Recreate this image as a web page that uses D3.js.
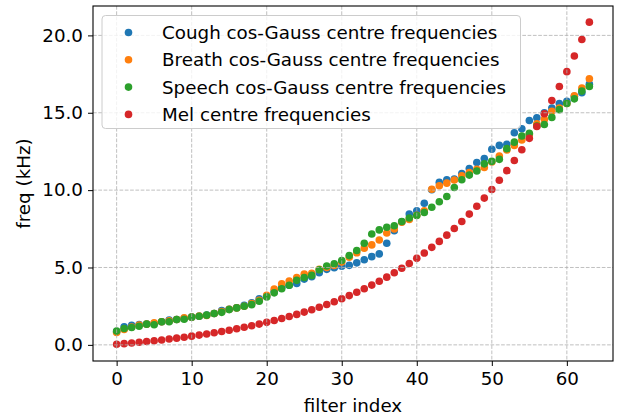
<!DOCTYPE html>
<html>
<head>
<meta charset="utf-8">
<script src="https://cdn.jsdelivr.net/npm/d3@7"></script>
<style>
  body { margin: 0; background: #fff; }
  svg { display: block; font-family: "DejaVu Sans", sans-serif; }
</style>
</head>
<body>
<svg id="chart" width="619" height="417"></svg>
<script>
// centre frequencies (kHz) per filter index
const cough = [0.86, 1.17, 1.27, 1.31, 1.35, 1.38, 1.49, 1.60, 1.64, 1.72,
  1.79, 1.85, 1.93, 2.03, 2.22, 2.30, 2.40, 2.56, 2.72, 2.98,
  3.15, 3.45, 3.72, 3.85, 3.97, 4.25, 4.40, 4.66, 4.88, 4.98,
  5.08, 5.14, 5.30, 5.50, 5.70, 5.88, 6.57, 7.38, 7.95, 8.45,
  8.67, 9.15, 10.02, 10.50, 10.66, 10.71, 11.07, 11.40, 11.78, 12.04,
  12.64, 12.89, 12.96, 13.71, 13.97, 14.50, 14.68, 15.00, 15.30, 15.60,
  15.74, 16.06, 16.30, 16.85];
const breath = [0.80, 1.00, 1.15, 1.28, 1.34, 1.43, 1.49, 1.55, 1.64, 1.75,
  1.79, 1.86, 1.90, 2.03, 2.15, 2.30, 2.39, 2.50, 2.67, 2.88,
  3.20, 3.60, 3.95, 4.12, 4.35, 4.57, 4.63, 4.88, 5.00, 5.13,
  5.35, 5.67, 5.95, 6.25, 6.46, 6.78, 7.23, 7.49, 7.92, 8.10,
  8.38, 8.67, 10.06, 10.28, 10.45, 10.65, 10.93, 11.14, 11.35, 11.46,
  11.82, 12.20, 12.59, 12.89, 13.24, 13.60, 14.29, 14.57, 15.10, 15.30,
  15.60, 16.10, 16.60, 17.20];
const speech = [0.89, 1.06, 1.12, 1.20, 1.34, 1.30, 1.49, 1.49, 1.64, 1.66,
  1.79, 1.85, 1.92, 2.03, 2.10, 2.28, 2.39, 2.50, 2.60, 2.82,
  3.10, 3.36, 3.63, 3.85, 4.17, 4.35, 4.49, 4.85, 5.10, 5.24,
  5.45, 5.77, 6.10, 6.57, 7.16, 7.43, 7.60, 7.70, 7.97, 8.20,
  8.36, 8.55, 8.89, 9.25, 9.59, 10.17, 10.67, 10.97, 11.24, 11.70,
  11.86, 11.99, 12.68, 13.10, 13.50, 13.67, 14.14, 14.24, 14.70, 15.20,
  15.60, 15.90, 16.40, 16.70];
const mel = [0.039, 0.079, 0.122, 0.167, 0.215, 0.265, 0.318, 0.374, 0.434, 0.496,
  0.562, 0.631, 0.704, 0.781, 0.863, 0.949, 1.040, 1.135, 1.236, 1.343,
  1.455, 1.574, 1.699, 1.831, 1.970, 2.117, 2.272, 2.435, 2.608, 2.790,
  2.982, 3.184, 3.398, 3.624, 3.861, 4.112, 4.377, 4.656, 4.951, 5.262,
  5.590, 5.936, 6.301, 6.686, 7.092, 7.521, 7.973, 8.450, 8.954, 9.485,
  10.045, 10.636, 11.260, 11.918, 12.612, 13.345, 14.117, 14.932, 15.792, 16.699,
  17.657, 18.667, 19.732, 20.856];

const seriesNames = ["Cough cos-Gauss centre frequencies", "Breath cos-Gauss centre frequencies",
  "Speech cos-Gauss centre frequencies", "Mel centre frequencies"];
const seriesColors = ["#1f77b4", "#ff7f0e", "#2ca02c", "#d62728"];
const seriesValues = [cough, breath, speech, mel];

const xTicks = [0, 10, 20, 30, 40, 50, 60];
const yTicks = [0, 5, 10, 15, 20];

const fontSize = 18.3;
const margin = { left: 93, right: 6, top: 6, bottom: 56 };
const width = 619, height = 417;
const svg = d3.select("#chart");

const x = d3.scaleLinear().domain([-3.15, 66.15]).range([margin.left, width - margin.right]);
const y = d3.scaleLinear().domain([-1.043, 21.9]).range([height - margin.bottom, margin.top]);

// points
seriesValues.forEach((vals, s) => {
    svg.append("g")
        .selectAll("circle")
        .data(vals)
        .enter().append("circle")
        .attr("cx", (d, i) => x(i))
        .attr("cy", d => y(d))
        .attr("r", 3.8)
        .attr("fill", seriesColors[s]);
});

// grid (matplotlib draws it over the scatter)
const grid = svg.append("g")
    .attr("stroke", "#b0b0b0")
    .attr("stroke-width", 0.8)
    .attr("stroke-dasharray", "3.7,1.6");
grid.selectAll("line.gx")
    .data(xTicks)
    .enter().append("line")
    .attr("x1", d => x(d)).attr("x2", d => x(d))
    .attr("y1", margin.top).attr("y2", height - margin.bottom);
grid.selectAll("line.gy")
    .data(yTicks)
    .enter().append("line")
    .attr("y1", d => y(d)).attr("y2", d => y(d))
    .attr("x1", margin.left).attr("x2", width - margin.right);

// axes
const xAxis = svg.append("g")
    .attr("transform", `translate(0,${height - margin.bottom})`)
    .call(d3.axisBottom(x).tickValues(xTicks).tickSize(5).tickPadding(6));
const yAxis = svg.append("g")
    .attr("transform", `translate(${margin.left},0)`)
    .call(d3.axisLeft(y).tickValues(yTicks).tickFormat(d3.format(".1f")).tickSize(5).tickPadding(5));
[xAxis, yAxis].forEach(a => {
    a.select(".domain").remove();
    a.selectAll("text").attr("font-size", fontSize).attr("fill", "#000")
        .attr("font-family", "DejaVu Sans");
    a.selectAll("line").attr("stroke", "#000").attr("stroke-width", 1);
});

svg.append("rect")
    .attr("x", margin.left).attr("y", margin.top)
    .attr("width", width - margin.left - margin.right)
    .attr("height", height - margin.top - margin.bottom)
    .attr("fill", "none").attr("stroke", "#000").attr("stroke-width", 1.1);

svg.append("text")
    .attr("x", (margin.left + width - margin.right) / 2)
    .attr("y", 412)
    .attr("text-anchor", "middle")
    .attr("font-size", fontSize)
    .text("filter index");
svg.append("text")
    .attr("transform", `translate(30,${(margin.top + height - margin.bottom) / 2}) rotate(-90)`)
    .attr("text-anchor", "middle")
    .attr("font-size", fontSize)
    .text("freq (kHz)");

// legend
const legend = svg.append("g");
legend.append("rect")
    .attr("x", 102).attr("y", 15.5).attr("width", 418.5).attr("height", 113)
    .attr("rx", 3.5)
    .attr("fill", "#fff").attr("fill-opacity", 0.8)
    .attr("stroke", "#cccccc").attr("stroke-width", 1);
seriesNames.forEach((name, i) => {
    const ly = 32.5 + i * 27.3;
    legend.append("circle")
        .attr("cx", 128.5).attr("cy", ly).attr("r", 3.8)
        .attr("fill", seriesColors[i]);
    legend.append("text")
        .attr("x", 162).attr("y", ly)
        .attr("dy", "0.36em")
        .attr("font-size", fontSize)
        .text(name);
});
</script>
</body>
</html>
